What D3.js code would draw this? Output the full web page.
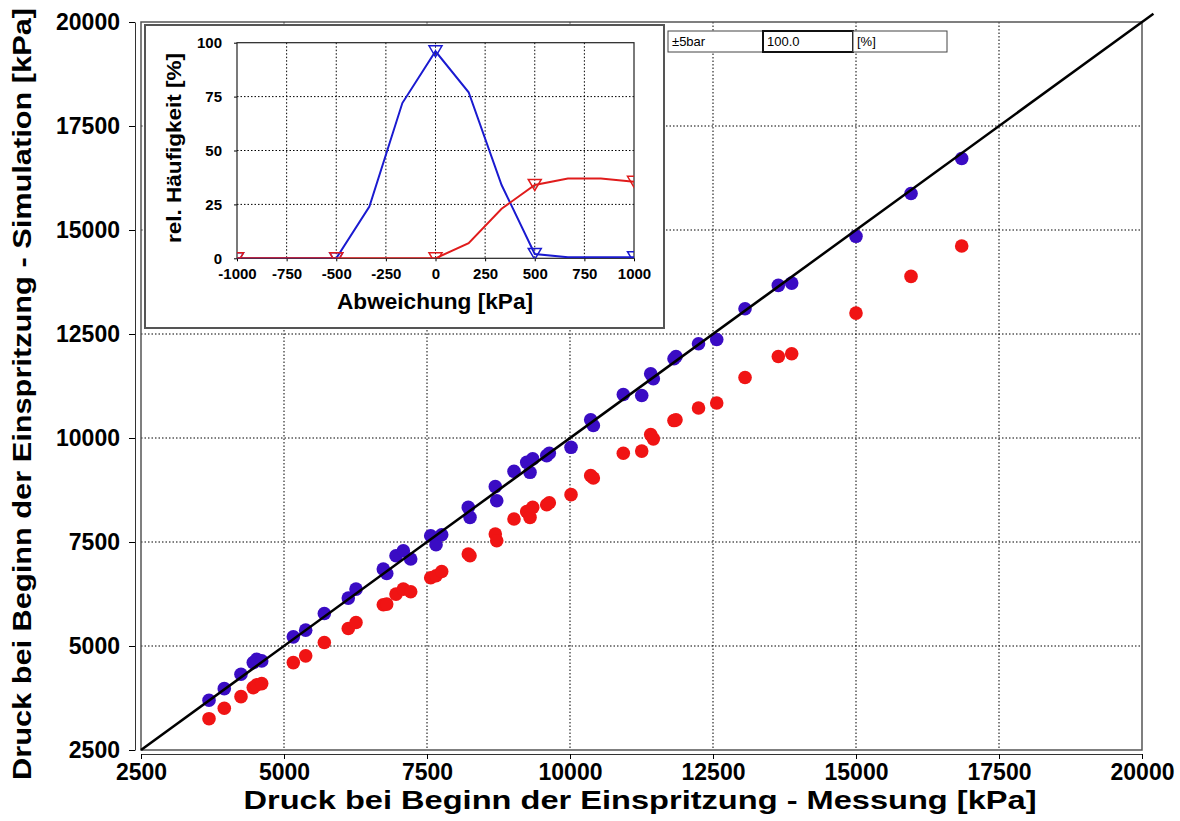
<!DOCTYPE html>
<html>
<head>
<meta charset="utf-8">
<script src="https://cdn.jsdelivr.net/npm/d3@7"></script>
<style>
  body { margin: 0; background: #fff; }
  svg { font-family: "Liberation Sans", Arial, sans-serif; }
  .tick text { font-weight: bold; }
</style>
</head>
<body>
<div id="chart"></div>
<script>
// Messung (x) und Simulation (y) in kPa, blau und rot
var messung = [3689, 3956, 4248, 4463, 4523, 4610, 5163, 5379, 5705, 6124, 6259, 6736, 6796, 6958, 7086, 7215, 7565, 7658, 7757, 8222, 8252, 8694, 8719, 9021, 9243, 9301, 9348, 9593, 9638, 10018, 10362, 10408, 10932, 11254, 11411, 11457, 11818, 11853, 12247, 12565, 13060, 13642, 13876, 15000, 15962, 16848];
var simBlau = [3696, 3975, 4322, 4601, 4683, 4642, 5220, 5381, 5781, 6151, 6368, 6849, 6744, 7170, 7290, 7090, 7651, 7434, 7675, 8332, 8092, 8830, 8493, 9199, 9415, 9175, 9497, 9577, 9632, 9776, 10436, 10299, 11045, 11021, 11543, 11423, 11904, 11960, 12265, 12369, 13108, 13668, 13724, 14848, 15876, 16718];
var simRot = [3253, 3504, 3783, 4000, 4065, 4096, 4601, 4763, 5083, 5420, 5564, 5990, 6007, 6248, 6368, 6303, 6640, 6688, 6792, 7211, 7170, 7692, 7531, 8053, 8229, 8091, 8332, 8397, 8445, 8638, 9095, 9040, 9632, 9685, 10082, 9979, 10419, 10436, 10720, 10840, 11454, 11960, 12024, 13002, 13885, 14614];
var mainTicks = [2500, 5000, 7500, 10000, 12500, 15000, 17500, 20000];
var diagonale = [2500, 20200];

// Histogramm (Abweichung in kPa, rel. Haeufigkeit in %)
var abweichung = [-1000, -833, -667, -500, -333, -167, 0, 167, 333, 500, 667, 833, 1000];
var haeufBlau = [0, 0, 0, 0, 24, 72, 96, 77, 34, 2, 0.5, 0.5, 0.5];
var haeufRot = [0, 0, 0, 0, 0, 0, 0, 7, 23, 34, 37, 37, 35.5];
var insetXTicks = [-1000, -750, -500, -250, 0, 250, 500, 750, 1000];
var insetYTicks = [0, 25, 50, 75, 100];
var boxTexte = ["\u00b15bar", "100.0", "[%]"];

var width = 1180, height = 821;
var blau = "#3a0cc4", rot = "#f01414";
var plain = function(d) { return String(d); };

var svg = d3.select('#chart').append('svg')
  .attr('width', width)
  .attr('height', height);

var x = d3.scaleLinear().domain([2500, 20000]).range([141, 1142]);
var y = d3.scaleLinear().domain([2500, 20000]).range([750, 22]);

// grid
svg.append('g').selectAll('line')
  .data(mainTicks.slice(1, -1))
  .enter().append('line')
  .attr('x1', function(d) { return x(d); })
  .attr('x2', function(d) { return x(d); })
  .attr('y1', y(20000)).attr('y2', y(2500))
  .attr('stroke', '#000').attr('stroke-dasharray', '1.5,2');
svg.append('g').selectAll('line')
  .data(mainTicks.slice(1, -1))
  .enter().append('line')
  .attr('y1', function(d) { return y(d); })
  .attr('y2', function(d) { return y(d); })
  .attr('x1', x(2500)).attr('x2', x(20000))
  .attr('stroke', '#000').attr('stroke-dasharray', '1.5,2');

// plot frame
svg.append('rect')
  .attr('x', x(2500)).attr('y', y(20000))
  .attr('width', x(20000) - x(2500)).attr('height', y(2500) - y(20000))
  .attr('fill', 'none').attr('stroke', '#555').attr('stroke-width', 1.5);

// axes
var yAxis = svg.append('g')
  .attr('transform', 'translate(135,0)')
  .call(d3.axisLeft(y).tickValues(mainTicks).tickSize(6).tickSizeOuter(0).tickPadding(9).tickFormat(plain));
var xAxis = svg.append('g')
  .attr('transform', 'translate(0,754)')
  .call(d3.axisBottom(x).tickValues(mainTicks).tickSize(5).tickSizeOuter(0).tickPadding(5).tickFormat(plain));
[xAxis, yAxis].forEach(function(a) {
  a.selectAll('text').attr('font-size', 23).attr('fill', '#000');
  a.select('.domain').attr('stroke', '#333');
});

// points
var punkte = messung.map(function(m, i) { return { m: m, b: simBlau[i], r: simRot[i] }; });
svg.append('g').selectAll('circle')
  .data(punkte).enter().append('circle')
  .attr('cx', function(d) { return x(d.m); })
  .attr('cy', function(d) { return y(d.r); })
  .attr('r', 6.8).attr('fill', rot);
svg.append('g').selectAll('circle')
  .data(punkte).enter().append('circle')
  .attr('cx', function(d) { return x(d.m); })
  .attr('cy', function(d) { return y(d.b); })
  .attr('r', 6.8).attr('fill', blau);

// 45 degree line
svg.append('line')
  .attr('x1', x(diagonale[0])).attr('y1', y(diagonale[0]))
  .attr('x2', x(diagonale[1])).attr('y2', y(diagonale[1]))
  .attr('stroke', '#000').attr('stroke-width', 2.5);

// axis titles
svg.append('text')
  .attr('x', 640).attr('y', 809)
  .attr('text-anchor', 'middle')
  .attr('font-size', 26).attr('font-weight', 'bold')
  .attr('textLength', 793).attr('lengthAdjust', 'spacingAndGlyphs')
  .text('Druck bei Beginn der Einspritzung - Messung [kPa]');
svg.append('text')
  .attr('transform', 'translate(31,394) rotate(-90)')
  .attr('text-anchor', 'middle')
  .attr('font-size', 26).attr('font-weight', 'bold')
  .attr('textLength', 772).attr('lengthAdjust', 'spacingAndGlyphs')
  .text('Druck bei Beginn der Einspritzung - Simulation [kPa]');

// text boxes top
var boxX = [668, 763, 853, 947];
boxTexte.forEach(function(t, i) {
  svg.append('rect')
    .attr('x', boxX[i]).attr('y', 31)
    .attr('width', boxX[i + 1] - boxX[i]).attr('height', 21)
    .attr('fill', '#fff')
    .attr('stroke', i === 1 ? '#111' : '#444')
    .attr('stroke-width', i === 1 ? 2 : 1);
  svg.append('text')
    .attr('x', boxX[i] + 4).attr('y', 46)
    .attr('font-size', 13)
    .text(t);
});

// ---- inset ----
var inset = svg.append('g');
inset.append('rect')
  .attr('x', 145).attr('y', 25).attr('width', 519).attr('height', 303)
  .attr('fill', '#fff').attr('stroke', '#555').attr('stroke-width', 2);

var ix = d3.scaleLinear().domain([-1000, 1000]).range([237, 634]);
var iy = d3.scaleLinear().domain([0, 100]).range([258.3, 42.7]);

inset.append('g').selectAll('line')
  .data(insetXTicks.slice(1, -1)).enter().append('line')
  .attr('x1', function(d) { return ix(d); }).attr('x2', function(d) { return ix(d); })
  .attr('y1', iy(100)).attr('y2', iy(0))
  .attr('stroke', '#000').attr('stroke-dasharray', '1.5,2');
inset.append('g').selectAll('line')
  .data(insetYTicks.slice(1, -1)).enter().append('line')
  .attr('y1', function(d) { return iy(d); }).attr('y2', function(d) { return iy(d); })
  .attr('x1', ix(-1000)).attr('x2', ix(1000))
  .attr('stroke', '#000').attr('stroke-dasharray', '1.5,2');

inset.append('clipPath').attr('id', 'iclip')
  .append('rect').attr('x', ix(-1000)).attr('y', iy(100))
  .attr('width', ix(1000) - ix(-1000)).attr('height', iy(0) - iy(100));

var ixAxis = inset.append('g')
  .attr('transform', 'translate(0,' + iy(0) + ')')
  .call(d3.axisBottom(ix).tickValues(insetXTicks).tickSize(3).tickSizeOuter(0).tickPadding(7).tickFormat(plain));
var iyAxis = inset.append('g')
  .attr('transform', 'translate(' + ix(-1000) + ',0)')
  .call(d3.axisLeft(iy).tickValues(insetYTicks).tickSize(3).tickSizeOuter(0).tickPadding(12).tickFormat(plain));
[ixAxis, iyAxis].forEach(function(a) {
  a.selectAll('text').attr('font-size', 15).attr('fill', '#000');
  a.select('.domain').remove();
});
inset.append('rect')
  .attr('x', ix(-1000)).attr('y', iy(100))
  .attr('width', ix(1000) - ix(-1000)).attr('height', iy(0) - iy(100))
  .attr('fill', 'none').attr('stroke', '#222').attr('stroke-width', 1.2);

var plotArea = inset.append('g').attr('clip-path', 'url(#iclip)');
var linie = d3.line()
  .x(function(d) { return ix(d[0]); })
  .y(function(d) { return iy(d[1]); });
var tri = 'M-6.5,-5.5L6.5,-5.5L0,5.5Z';

[[haeufBlau, '#1a1ad0'], [haeufRot, '#e01c1c']].forEach(function(s) {
  var pts = abweichung.map(function(a, i) { return [a, s[0][i]]; });
  plotArea.append('path')
    .attr('d', linie(pts))
    .attr('fill', 'none').attr('stroke', s[1]).attr('stroke-width', 2);
  plotArea.selectAll(null)
    .data(pts.filter(function(p, i) { return i % 3 === 0; }))
    .enter().append('path')
    .attr('d', tri)
    .attr('transform', function(p) { return 'translate(' + ix(p[0]) + ',' + iy(p[1]) + ')'; })
    .attr('fill', 'none').attr('stroke', s[1]).attr('stroke-width', 1.5);
});

inset.append('text')
  .attr('x', 435).attr('y', 309)
  .attr('text-anchor', 'middle')
  .attr('font-size', 22).attr('font-weight', 'bold')
  .attr('textLength', 196).attr('lengthAdjust', 'spacingAndGlyphs')
  .text('Abweichung [kPa]');
inset.append('text')
  .attr('transform', 'translate(181,148) rotate(-90)')
  .attr('text-anchor', 'middle')
  .attr('font-size', 21).attr('font-weight', 'bold')
  .attr('textLength', 190).attr('lengthAdjust', 'spacingAndGlyphs')
  .text('rel. Häufigkeit [%]');
</script>
</body>
</html>
